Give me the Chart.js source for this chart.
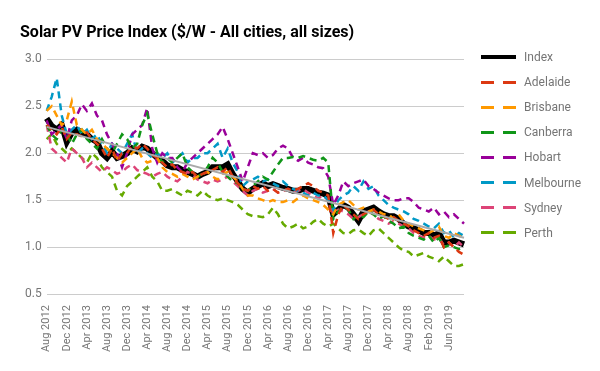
<!DOCTYPE html>
<html>
<head>
<meta charset="utf-8">
<script src="https://cdn.jsdelivr.net/npm/chart.js@4/dist/chart.umd.min.js"></script>
<style>
html,body{margin:0;padding:0;background:#fff;}
#wrap{position:relative;width:600px;height:371px;}
#legend{position:absolute;left:481px;top:0;font-family:Roboto,"Noto Sans",sans-serif;font-size:12px;color:#757575;}
.item{position:absolute;left:0;height:14px;width:110px;}
.item .sw{position:absolute;left:0;top:50%;height:3px;margin-top:-1.5px;}
.item .txt{position:absolute;left:43px;top:50%;transform:translateY(-50%);white-space:nowrap;line-height:14px;}
</style>
</head>
<body>
<div id="wrap"><canvas id="c" width="600" height="371"></canvas><div id="legend"></div></div>
<script>
const months = [
'Aug 2012','Sep 2012','Oct 2012','Nov 2012','Dec 2012',
'Jan 2013','Feb 2013','Mar 2013','Apr 2013','May 2013','Jun 2013','Jul 2013','Aug 2013','Sep 2013','Oct 2013','Nov 2013','Dec 2013',
'Jan 2014','Feb 2014','Mar 2014','Apr 2014','May 2014','Jun 2014','Jul 2014','Aug 2014','Sep 2014','Oct 2014','Nov 2014','Dec 2014',
'Jan 2015','Feb 2015','Mar 2015','Apr 2015','May 2015','Jun 2015','Jul 2015','Aug 2015','Sep 2015','Oct 2015','Nov 2015','Dec 2015',
'Jan 2016','Feb 2016','Mar 2016','Apr 2016','May 2016','Jun 2016','Jul 2016','Aug 2016','Sep 2016','Oct 2016','Nov 2016','Dec 2016',
'Jan 2017','Feb 2017','Mar 2017','Apr 2017','May 2017','Jun 2017','Jul 2017','Aug 2017','Sep 2017','Oct 2017','Nov 2017','Dec 2017',
'Jan 2018','Feb 2018','Mar 2018','Apr 2018','May 2018','Jun 2018','Jul 2018','Aug 2018','Sep 2018','Oct 2018','Dec 2018',
'Feb 2019','Mar 2019','Apr 2019','May 2019','Jun 2019','Jul 2019','Aug 2019','Sep 2019'
];

const indexVals = [
2.37,2.29,2.25,2.30,2.12,2.22,2.25,2.22,2.20,2.15,2.12,2.00,
1.95,2.02,1.95,1.97,2.00,2.05,2.02,2.07,2.05,2.00,1.95,1.92,
1.87,1.85,1.85,1.82,1.80,1.78,1.75,1.78,1.80,1.85,1.85,1.85,
1.88,1.78,1.70,1.62,1.58,1.62,1.65,1.68,1.65,1.67,1.65,1.63,
1.62,1.60,1.60,1.62,1.62,1.60,1.58,1.57,1.55,1.35,1.40,1.45,
1.42,1.35,1.28,1.38,1.40,1.42,1.38,1.35,1.33,1.33,1.30,1.25,
1.22,1.20,1.18,1.15,1.15,1.12,1.15,1.05,1.05,1.07,1.05,1.03];

const adelaide = [
2.30,2.25,2.20,2.28,2.15,2.22,2.20,2.18,2.22,2.15,2.10,2.05,
1.95,2.05,1.92,2.00,2.00,2.08,2.05,2.10,2.05,1.98,1.95,1.90,
1.85,1.88,1.82,1.80,1.78,1.80,1.75,1.78,1.80,1.82,1.85,1.80,
1.85,1.75,1.68,1.62,1.60,1.65,1.62,1.65,1.60,1.62,1.58,1.60,
1.62,1.60,1.62,1.65,1.68,1.65,1.60,1.58,1.55,1.15,1.35,1.45,
1.40,1.35,1.30,1.35,1.38,1.40,1.35,1.33,1.30,1.32,1.28,1.25,
1.22,1.18,1.15,1.12,1.15,1.10,1.12,1.00,1.05,1.00,0.95,0.92];

const brisbane = [
2.45,2.50,2.40,2.30,2.35,2.55,2.30,2.25,2.20,2.25,2.15,2.10,
2.05,2.00,1.95,1.90,1.95,2.00,2.05,1.95,1.90,1.92,1.95,1.85,
1.80,1.78,1.75,1.78,1.75,1.72,1.75,1.78,1.80,1.75,1.72,1.78,
1.80,1.75,1.70,1.62,1.55,1.55,1.52,1.50,1.48,1.50,1.48,1.48,
1.50,1.48,1.52,1.55,1.52,1.50,1.48,1.45,1.40,1.35,1.45,1.48,
1.50,1.45,1.40,1.42,1.38,1.40,1.38,1.35,1.35,1.30,1.35,1.28,
1.25,1.22,1.20,1.18,1.15,1.18,1.22,1.12,1.10,1.15,1.12,1.10];

const canberra = [
2.30,2.20,2.15,2.25,2.20,2.10,2.20,2.25,2.15,2.10,2.05,2.15,
2.05,2.00,2.10,2.20,2.15,2.05,2.10,2.30,2.42,2.20,2.00,1.90,
1.95,1.90,1.95,2.00,1.85,1.80,1.75,1.78,1.85,1.95,1.90,1.80,
1.75,1.70,1.68,1.62,1.60,1.65,1.70,1.75,1.72,1.80,1.88,1.95,
1.95,1.96,1.95,1.97,1.95,1.93,1.92,1.95,1.90,1.30,1.38,1.42,
1.40,1.30,1.35,1.32,1.38,1.35,1.30,1.33,1.28,1.25,1.20,1.22,
1.15,1.12,1.10,1.08,1.12,1.05,1.10,1.00,1.02,1.00,0.98,1.00];

const hobart = [
2.35,2.20,2.25,2.30,2.15,2.35,2.40,2.52,2.45,2.53,2.40,2.35,
2.20,2.10,2.00,1.85,2.00,2.20,2.25,2.30,2.48,2.05,1.90,2.00,
1.95,1.95,1.85,1.80,1.90,1.95,2.00,2.05,2.10,2.15,2.20,2.28,
2.15,2.00,1.85,1.70,1.85,2.00,1.98,2.00,1.95,1.98,2.05,2.08,
2.05,1.95,1.92,1.95,1.90,1.88,1.85,1.84,1.75,1.45,1.55,1.70,
1.65,1.68,1.70,1.72,1.65,1.62,1.58,1.55,1.52,1.50,1.50,1.52,
1.52,1.48,1.42,1.40,1.38,1.42,1.35,1.38,1.32,1.35,1.30,1.25];

const melbourne = [
2.45,2.60,2.80,2.40,2.20,2.25,2.30,2.20,2.25,2.15,2.20,2.10,
2.00,2.10,2.05,2.00,2.10,2.20,2.00,2.05,2.00,1.95,2.00,1.95,
2.00,1.90,1.95,2.00,1.90,1.95,1.95,2.00,2.00,2.05,2.10,1.95,
2.05,1.90,1.80,1.65,1.70,1.72,1.75,1.70,1.72,1.68,1.65,1.70,
1.65,1.62,1.60,1.58,1.55,1.58,1.55,1.55,1.50,1.40,1.50,1.55,
1.58,1.65,1.60,1.70,1.62,1.65,1.55,1.50,1.45,1.42,1.40,1.38,
1.35,1.30,1.28,1.25,1.22,1.20,1.25,1.15,1.18,1.10,1.15,1.12];

const sydney = [
2.30,2.05,2.00,1.95,1.90,2.05,2.00,1.95,1.85,1.90,1.85,1.80,
1.85,1.82,1.78,1.80,1.85,1.88,1.82,1.80,1.78,1.75,1.78,1.80,
1.75,1.72,1.70,1.75,1.80,1.78,1.72,1.70,1.68,1.72,1.70,1.72,
1.75,1.70,1.65,1.60,1.55,1.60,1.62,1.58,1.60,1.62,1.58,1.60,
1.62,1.58,1.60,1.62,1.58,1.55,1.52,1.55,1.50,1.35,1.40,1.38,
1.35,1.30,1.32,1.35,1.38,1.35,1.30,1.28,1.25,1.28,1.25,1.22,
1.20,1.15,1.12,1.10,1.12,1.08,1.10,1.02,1.05,1.00,1.05,1.00];

const perth = [
2.15,2.20,2.10,2.05,2.00,2.05,2.00,1.95,1.90,2.00,1.95,1.85,
1.80,1.75,1.60,1.55,1.65,1.70,1.75,1.80,1.85,1.75,1.70,1.60,
1.60,1.62,1.58,1.55,1.60,1.58,1.55,1.60,1.55,1.52,1.50,1.52,
1.50,1.48,1.45,1.40,1.35,1.33,1.33,1.32,1.35,1.42,1.35,1.25,
1.20,1.22,1.25,1.20,1.22,1.27,1.30,1.25,1.22,1.25,1.20,1.15,
1.14,1.18,1.19,1.15,1.12,1.18,1.20,1.15,1.10,1.05,1.00,0.96,
0.95,0.90,0.92,0.94,0.90,0.88,0.85,0.90,0.85,0.80,0.80,0.82];

// trend line endpoints
const trendLabels = ['Aug 2012','Sep 2019'];
const trendVals = [2.28, 1.10];

const yTicks = [0.5,1.0,1.5,2.0,2.5,3.0];

const cities = [
  ['Adelaide', adelaide, '#dc3912'],
  ['Brisbane', brisbane, '#ff9900'],
  ['Canberra', canberra, '#109618'],
  ['Hobart', hobart, '#990099'],
  ['Melbourne', melbourne, '#0099c6'],
  ['Sydney', sydney, '#dd4477'],
  ['Perth', perth, '#66aa00']
];

const datasets = [{
  label: 'Index', data: indexVals, borderColor: '#000000', backgroundColor:'#000000',
  borderWidth: 6, pointRadius: 0, tension: 0, order: 10, fill:false, borderJoinStyle:'miter'
}];
cities.forEach(c => datasets.push({
  label: c[0], data: c[1], borderColor: c[2], backgroundColor: c[2],
  borderWidth: 2.5, borderDash: [7,5], pointRadius: 0, tension: 0, order: 5, fill:false
}));
datasets.push({
  label: 'trend', data: trendLabels.map((l,i)=>({x:l, y:trendVals[i]})),
  borderColor: '#aaaaaa', borderWidth: 2, pointRadius: 0, order: 1, fill:false
});

// HTML legend built from the dataset list
const legendEl = document.getElementById('legend');
datasets.filter(d => d.label !== 'trend').forEach((d, i) => {
  const it = document.createElement('div');
  it.className = 'item';
  it.style.top = (57 + i * 25.1 - 7) + 'px';
  if (d.label === 'Index') {
    const s = document.createElement('span');
    s.className = 'sw'; s.style.width = '35px'; s.style.background = d.borderColor;
    s.style.height = '4px'; s.style.marginTop = '-2px';
    it.appendChild(s);
  } else {
    [0, 22].forEach(x => {
      const s = document.createElement('span');
      s.className = 'sw'; s.style.left = x + 'px'; s.style.width = '13px'; s.style.background = d.borderColor;
      it.appendChild(s);
    });
  }
  const t = document.createElement('span');
  t.className = 'txt'; t.textContent = d.label;
  it.appendChild(t);
  legendEl.appendChild(it);
});

Chart.defaults.font.family = 'Roboto, "Noto Sans", sans-serif';
Chart.defaults.color = '#757575';

new Chart(document.getElementById('c'), {
  type: 'line',
  data: { labels: months, datasets },
  options: {
    responsive: false,
    animation: false,
    layout: { padding: { left: 20, right: 136, top: 8, bottom: 16 } },
    plugins: {
      title: {
        display: true, text: 'Solar PV Price Index ($/W - All cities, all sizes)',
        align: 'start', color: '#000', font: { size: 16, weight: 'bold' },
        padding: { top: 15, bottom: 17 }, fullSize: true
      },
      legend: { display: false },
      tooltip: { enabled: false }
    },
    scales: {
      x: {
        grid: { display: false },
        border: { display: false },
        ticks: {
          autoSkip: false, maxRotation: 90, minRotation: 90,
          font: { size: 11 }, color: '#757575',
          callback: function(v, i) { return i % 4 === 0 ? months[i] : null; }
        }
      },
      y: {
        min: yTicks[0], max: yTicks[yTicks.length-1],
        afterBuildTicks: (axis) => { axis.ticks = yTicks.map(v => ({ value: v })); },
        grid: { color: '#cccccc', drawTicks: false },
        border: { display: false },
        ticks: { padding: 5, font: { size: 12 }, color: '#757575', callback: v => v.toFixed(1) }
      }
    }
  }
});
</script>
</body>
</html>
